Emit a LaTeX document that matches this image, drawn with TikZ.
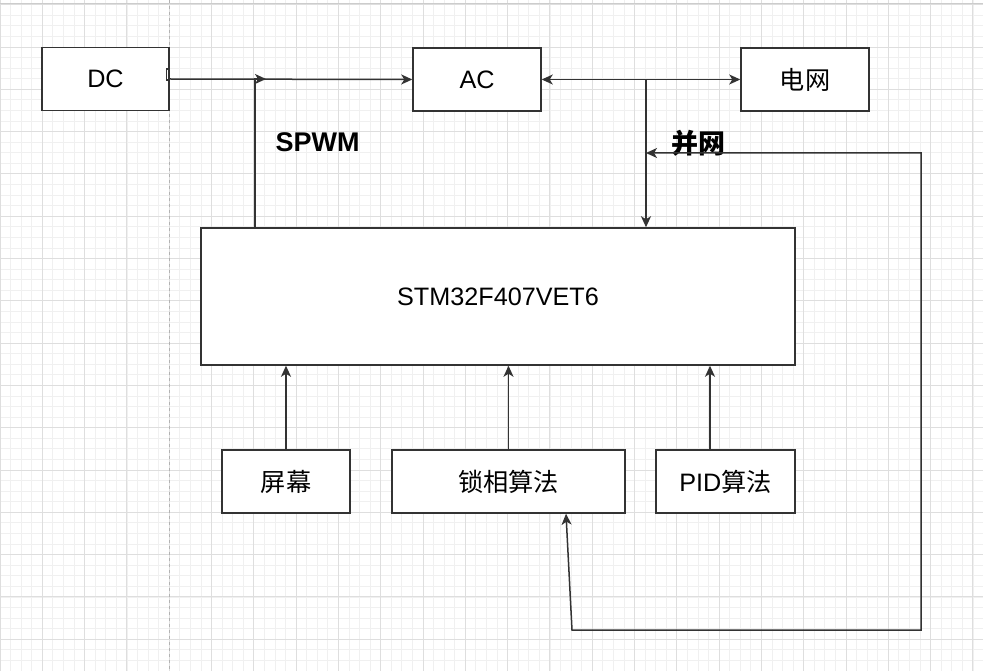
\documentclass[tikz,border=0pt]{standalone}
\usepackage{fontspec}
\setmainfont{Liberation Sans}
\newfontfamily\cjk{Noto Sans CJK SC}
\usetikzlibrary{arrows.meta}
\definecolor{lineC}{HTML}{333333}
\definecolor{gridminor}{HTML}{F0F0F0}
\definecolor{gridmajor}{HTML}{DEDEDE}
\tikzset{
  box/.style={draw=lineC,line width=1.5pt,fill=white,inner sep=0pt,font=\fontsize{25.2}{29}\selectfont},
  tipA/.tip={Stealth[length=11pt,width=10pt,inset=3pt]},
  arr/.style={draw=lineC,line width=1.5pt,-tipA},
  arrb/.style={draw=lineC,line width=1.5pt,tipA-tipA},
  plain/.style={draw=lineC,line width=1.5pt},
  lbl/.style={font=\fontsize{27}{31}\selectfont\bfseries,inner sep=0pt}
}
\begin{document}
\begin{tikzpicture}[x=1pt,y=-1pt]
\useasboundingbox (0,0) rectangle (983,671);
\fill[white] (0,0) rectangle (983,671);
% grid
\foreach \i in {0,...,93} {\draw[gridminor,line width=0.8pt] ({10.575*\i},0) -- ({10.575*\i},671);}
\foreach \j in {0,...,63} {\draw[gridminor,line width=0.8pt] (0,{4.7+10.575*\j}) -- (983,{4.7+10.575*\j});}
\foreach \i in {0,...,23} {\draw[gridmajor,line width=0.9pt] ({42.3*\i},0) -- ({42.3*\i},671);}
\foreach \j in {0,...,15} {\draw[gridmajor,line width=0.9pt] (0,{4.7+42.3*\j}) -- (983,{4.7+42.3*\j});}
\draw[gray!40,line width=1pt] (0,3.5) -- (983,3.5);
\draw[gray!60,line width=1pt,dash pattern=on 3pt off 3pt] (169,0) -- (169,671);
% nodes
\node[box,minimum width=127pt,minimum height=63pt] (dc) at (105.5,79) {DC};
\node[box,minimum width=128pt,minimum height=63pt] (ac) at (477,79.5) {AC};
\node[box,minimum width=128pt,minimum height=63pt] (grid) at (805,79.5) {\cjk 电网};
\node[box,minimum width=594pt,minimum height=137pt] (stm) at (498,296.5) {STM32F407VET6};
\node[box,minimum width=128pt,minimum height=63pt] (scr) at (286,481.5) {\cjk 屏幕};
\node[box,minimum width=233pt,minimum height=63pt] (pll) at (508.5,481.5) {\cjk 锁相算法};
\node[box,minimum width=139pt,minimum height=63pt] (pid) at (725.5,481.5) {PID{\cjk 算法}};
\node[lbl] (spwm) at (317.5,142) {SPWM};
\node[lbl] (bw) at (698,143) {\cjk 并网};
% coordinates
\coordinate (s1) at (255,79);
\coordinate (s1e) at (266,79);
\coordinate (j1) at (646,79.5);
\coordinate (pidx) at (710,0);
\coordinate (l1) at (566,0);
\coordinate (b1) at (572,630);
\coordinate (b2) at (921,630);
\coordinate (b3) at (921,153);
\coordinate (b4) at (646,153);
% connectors
\draw[plain] (166.5,69) rectangle (169.5,80);
\draw[arr] (dc.east) -- (ac.west);
\draw[arr] (stm.north -| s1) -- (s1) -- (s1e);
\draw[arrb] (ac.east) -- (grid.west);
\draw[arr] (j1) -- (j1 |- stm.north);
\draw[arr] (scr.north) -- (scr.north |- stm.south);
\draw[arr] (pll.north) -- (pll.north |- stm.south);
\draw[arr] (pidx |- pid.north) -- (pidx |- stm.south);
\draw[arrb] (l1 |- pll.south) -- (b1) -- (b2) -- (b3) -- (b4);
\end{tikzpicture}
\end{document}
